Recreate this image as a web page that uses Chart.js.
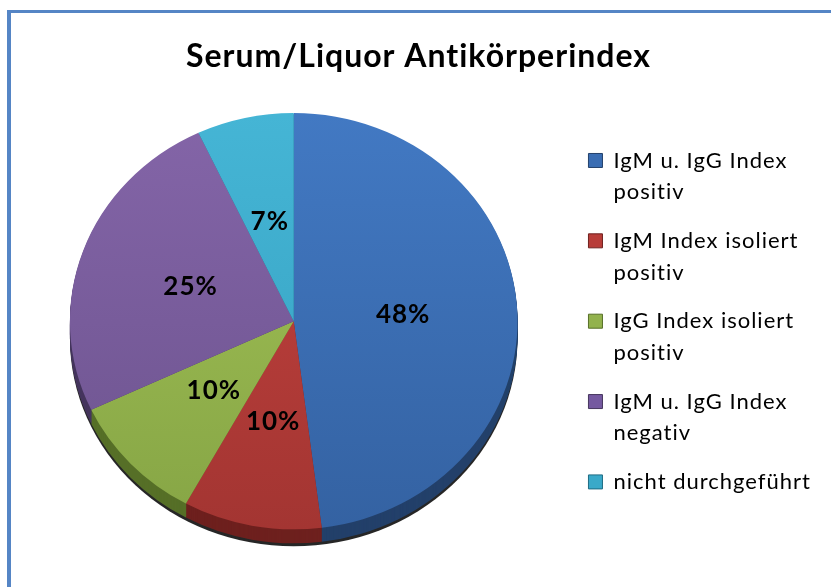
<!DOCTYPE html>
<html>
<head>
<meta charset="utf-8">
<script src="https://cdn.jsdelivr.net/npm/chart.js@4.4.1/dist/chart.umd.min.js"></script>
<style>
  html, body { margin: 0; padding: 0; background: #fff; }
  canvas { display: block; }
</style>
</head>
<body>
<canvas id="pie" width="831" height="587"></canvas>
<script>
// ---- data -------------------------------------------------------------
const chartTitle = 'Serum/Liquor Antikörperindex';
const categories = [
    ['IgM u. IgG Index', 'positiv'],
    ['IgM Index isoliert', 'positiv'],
    ['IgG Index isoliert', 'positiv'],
    ['IgM u. IgG Index', 'negativ'],
    'nicht durchgeführt',
];
const shares = [48, 10, 10, 25, 7];

// ---- styling ----------------------------------------------------------
const topColors    = ['#4279c3', '#c6433f', '#a4c457', '#8465a8', '#45b5d5'];
const bottomColors = ['#3462a2', '#a33532', '#86a545', '#6c538e', '#35a0c0'];
const sideColors   = ['#23406a', '#6e201e', '#566f27', '#46365e', '#1f6b82'];
const legendColors = ['#3a6db3', '#b83d39', '#92b24d', '#7559a0', '#3aa9c9'];

const TILT = 0.93;      // vertical squash of the pie
const DEPTH = 14;       // height of the 3d rim
const LABEL_POS = 0.49; // label distance as part of radius

Chart.defaults.font.family = "'Lato', 'Noto Sans', sans-serif";
Chart.defaults.color = '#000';

// a bit of letter spacing makes Lato closer to Calibri (and drops the ti ligature)
const spacingPlugin = {
    id: 'spacing',
    beforeUpdate(chart) { chart.ctx.letterSpacing = '1px'; },
    beforeDraw(chart) { chart.ctx.letterSpacing = '1px'; },
};

// white page + blue frame (frame runs off the right/bottom edge)
const framePlugin = {
    id: 'frame',
    beforeDraw(chart) {
        const ctx = chart.ctx;
        ctx.save();
        ctx.fillStyle = '#fff';
        ctx.fillRect(0, 0, chart.width, chart.height);
        ctx.fillStyle = '#5585c5';
        ctx.fillRect(7, 10, 4, chart.height);
        ctx.fillRect(7, 10, chart.width, 3);
        ctx.restore();
    },
};

// squash the pie, draw a rim under it, then the percent labels
const tiltPlugin = {
    id: 'tilt',
    beforeDatasetsDraw(chart) {
        const ctx = chart.ctx;
        const arcs = chart.getDatasetMeta(0).data;
        if (!arcs.length) return;
        const { x, y, outerRadius } = arcs[0];
        ctx.save();
        ctx.translate(x, y);
        ctx.scale(1, TILT);
        ctx.translate(-x, -y);

        // soft dark shadow under the rim
        ctx.fillStyle = 'rgba(0,0,0,0.85)';
        ctx.beginPath();
        ctx.arc(x, y + (DEPTH + 3) / TILT, outerRadius, 0, Math.PI * 2);
        ctx.fill();

        for (let d = DEPTH; d >= 1; d--) {
            arcs.forEach((a, i) => {
                ctx.fillStyle = sideColors[i];
                ctx.beginPath();
                ctx.moveTo(x, y + d / TILT);
                ctx.arc(x, y + d / TILT, a.outerRadius, a.startAngle, a.endAngle);
                ctx.closePath();
                ctx.fill();
            });
        }
    },
    afterDatasetsDraw(chart) {
        const ctx = chart.ctx;
        const arcs = chart.getDatasetMeta(0).data;
        if (!arcs.length) return;
        ctx.restore();

        ctx.save();
        ctx.font = "bold 26px 'Lato', sans-serif";
        ctx.fillStyle = '#000';
        ctx.textAlign = 'center';
        ctx.textBaseline = 'middle';
        arcs.forEach((a, i) => {
            const mid = (a.startAngle + a.endAngle) / 2;
            const r = a.outerRadius * LABEL_POS;
            ctx.fillText(shares[i] + '%', a.x + Math.cos(mid) * r, a.y + Math.sin(mid) * r * TILT);
        });
        ctx.restore();
    },
};

function sliceFill(context) {
    const i = context.dataIndex;
    const chart = context.chart;
    const area = chart.chartArea;
    if (!area) return topColors[i];
    const cy = (area.top + area.bottom) / 2;
    const r = Math.min(area.width, area.height) / 2;
    const g = chart.ctx.createLinearGradient(0, cy - r, 0, cy + r);
    g.addColorStop(0, topColors[i]);
    g.addColorStop(1, bottomColors[i]);
    return g;
}

new Chart(document.getElementById('pie'), {
    type: 'pie',
    data: {
        labels: categories,
        datasets: [{
            data: shares,
            backgroundColor: sliceFill,
            borderWidth: 0,
        }],
    },
    options: {
        responsive: false,
        animation: false,
        layout: { padding: { left: 16, right: 10, top: 10, bottom: 42 } },
        plugins: {
            title: {
                display: true,
                text: chartTitle,
                color: '#000',
                font: { size: 32, weight: 'bold' },
                padding: { top: 27, bottom: 22 },
            },
            legend: {
                position: 'right',
                fullSize: false,
                labels: {
                    boxWidth: 14,
                    boxHeight: 14,
                    padding: 17,
                    color: '#000',
                    font: { size: 22, lineHeight: 1.44 },
                    generateLabels(chart) {
                        return chart.data.labels.map((text, i) => ({
                            text,
                            fillStyle: legendColors[i],
                            strokeStyle: sideColors[i],
                            lineWidth: 1,
                            fontColor: '#000',
                            hidden: false,
                            index: i,
                        }));
                    },
                },
            },
            tooltip: { enabled: false },
        },
    },
    plugins: [spacingPlugin, framePlugin, tiltPlugin],
});
</script>
</body>
</html>
